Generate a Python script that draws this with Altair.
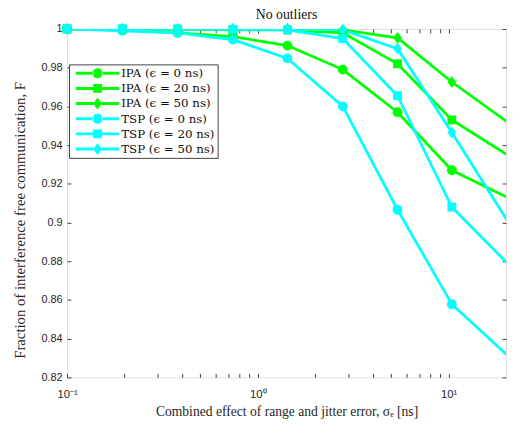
import altair as alt
import pandas as pd

# ---- data ----
x_vals = [0.1, 0.195, 0.38, 0.74, 1.43, 2.79, 5.4, 10.4, 20.3]
ipa_0 = [1.0, 0.9995, 0.998, 0.996, 0.9914, 0.979, 0.957, 0.927, 0.913]
ipa_20 = [1.0, 1.0, 0.9998, 0.9995, 0.9995, 0.998, 0.982, 0.953, 0.935]
ipa_50 = [1.0, 1.0, 1.0, 1.0, 1.0, 0.9995, 0.9954, 0.9726, 0.952]
tsp_0 = [1.0, 0.999, 0.998, 0.9945, 0.9848, 0.960, 0.9066, 0.8578, 0.8315]
tsp_20 = [1.0, 1.0, 1.0, 0.9998, 0.9995, 0.995, 0.9655, 0.908, 0.879]
tsp_50 = [1.0, 1.0, 1.0, 1.0, 1.0, 0.9995, 0.9898, 0.9465, 0.901]

series_names = [
    "IPA (ϵ = 0 ns)", "IPA (ϵ = 20 ns)", "IPA (ϵ = 50 ns)",
    "TSP (ϵ = 0 ns)", "TSP (ϵ = 20 ns)", "TSP (ϵ = 50 ns)",
]
series_values = [ipa_0, ipa_20, ipa_50, tsp_0, tsp_20, tsp_50]
series_colors = ["#00ff00", "#00ff00", "#00ff00", "#00ffff", "#00ffff", "#00ffff"]
series_markers = ["circle", "square", "diamond", "circle", "square", "diamond"]

x_ticks = [0.1, 0.2, 0.3, 0.4, 0.5, 0.6, 0.7, 0.8, 0.9,
           1, 2, 3, 4, 5, 6, 7, 8, 9, 10]
y_ticks = [0.82, 0.84, 0.86, 0.88, 0.9, 0.92, 0.94, 0.96, 0.98, 1.0]

rows = []
for name, ys, mk in zip(series_names, series_values, series_markers):
    for xv, yv in zip(x_vals, ys):
        rows.append({"series": name, "x": xv, "y": yv, "marker": mk})
df = pd.DataFrame(rows)

W, H = 446, 354
AX = "#404040"
SERIF = "Liberation Serif"
SANS = "Liberation Sans"

# legend symbols: line + marker
seg = "M-3.667,-0.25L-0.7,-0.25L-0.7,0.25L-3.667,0.25Z M0.7,-0.25L3.667,-0.25L3.667,0.25L0.7,0.25Z "
circ = "M-0.85,0A0.85,0.85 0 1,0 0.85,0A0.85,0.85 0 1,0 -0.85,0Z"
sq = "M-0.75,-0.75L0.75,-0.75L0.75,0.75L-0.75,0.75Z"
dia = "M0,-1L0.75,0L0,1L-0.75,0Z"
legend_shapes = [seg + circ, seg + sq, seg + dia, seg + circ, seg + sq, seg + dia]

x_enc = alt.X(
    "x:Q",
    scale=alt.Scale(type="log", domain=[0.1, 20]),
    axis=alt.Axis(
        values=x_ticks,
        labelExpr="datum.value == 0.1 ? '10⁻¹' : (datum.value == 1 ? '10⁰' : (datum.value == 10 ? '10¹' : ''))",
        ticks=False, domain=False, grid=True, gridColor=AX, gridOpacity=1,
        gridWidth=1, gridDash=[4, H - 8, 4, 3000],
        labelFont=SANS, labelFontSize=11.5, labelColor="#262626", labelPadding=11,
        labelFlush=False, labelOverlap=False,
        title="Combined effect of range and jitter error, σₑ [ns]",
        titleFont=SERIF, titleFontSize=13.8, titleFontWeight="normal",
        titleColor="#262626", titlePadding=5,
    ),
)
y_enc = alt.Y(
    "y:Q",
    scale=alt.Scale(domain=[0.82, 1.0]),
    axis=alt.Axis(
        values=y_ticks, format="~g",
        ticks=False, domain=False, grid=True, gridColor=AX, gridOpacity=1,
        gridWidth=1, gridDash=[4, W - 8, 4, 3000],
        labelFont=SANS, labelFontSize=11, labelColor="#262626", labelPadding=5,
        labelFlush=False, labelOverlap=False,
        title="Fraction of interference free communication, F",
        titleFont=SERIF, titleFontSize=15, titleFontWeight="normal",
        titleColor="#262626", titlePadding=14, titleY=194,
    ),
)

leg_props = dict(
    orient="none", legendX=2, legendY=36, title=None,
    labelFont="DejaVu Serif", labelFontSize=12, labelColor="#111111",
    symbolSize=144, symbolStrokeWidth=0, symbolOffset=20, labelOffset=18,
    rowPadding=3.4, padding=3, strokeColor=AX, fillColor="white",
    symbolOpacity=1,
)
color_enc = alt.Color(
    "series:N",
    scale=alt.Scale(domain=series_names, range=series_colors),
    legend=alt.Legend(**leg_props),
)

lines = alt.Chart(df).mark_line(clip=True, strokeWidth=2.8).encode(
    x=x_enc, y=y_enc, color=color_enc,
)

def marker_layer(shape_name, shape, size):
    return alt.Chart(df).mark_point(
        shape=shape, filled=True, size=size, opacity=1
    ).encode(
        x=x_enc, y=y_enc, color=color_enc,
    ).transform_filter(
        (alt.datum.x < 20) & (alt.datum.marker == shape_name)
    )

pts_c = marker_layer("circle", "circle", 100)
pts_s = marker_layer("square", "square", 81)
pts_d = marker_layer("diamond", dia, 144)

legend_layer = alt.Chart(df).mark_point(filled=True, opacity=0, size=144).encode(
    x=x_enc, y=y_enc, color=color_enc,
    shape=alt.Shape("series:N", scale=alt.Scale(domain=series_names, range=legend_shapes),
                    legend=alt.Legend(**leg_props)),
)

chart = alt.layer(lines, pts_c, pts_s, pts_d, legend_layer).properties(
    width=W, height=H,
    title=alt.TitleParams("No outliers", font=SERIF, fontSize=14, fontWeight="normal",
                          color="#111111", anchor="middle", offset=5, dy=4),
    autosize=alt.AutoSizeParams(type="none"),
    padding={"left": 60, "top": 18, "right": 1, "bottom": 39},
).configure_view(stroke=AX, strokeWidth=1).configure(background="white")

chart.save("out.html", embed_options={"renderer": "svg", "actions": False})
